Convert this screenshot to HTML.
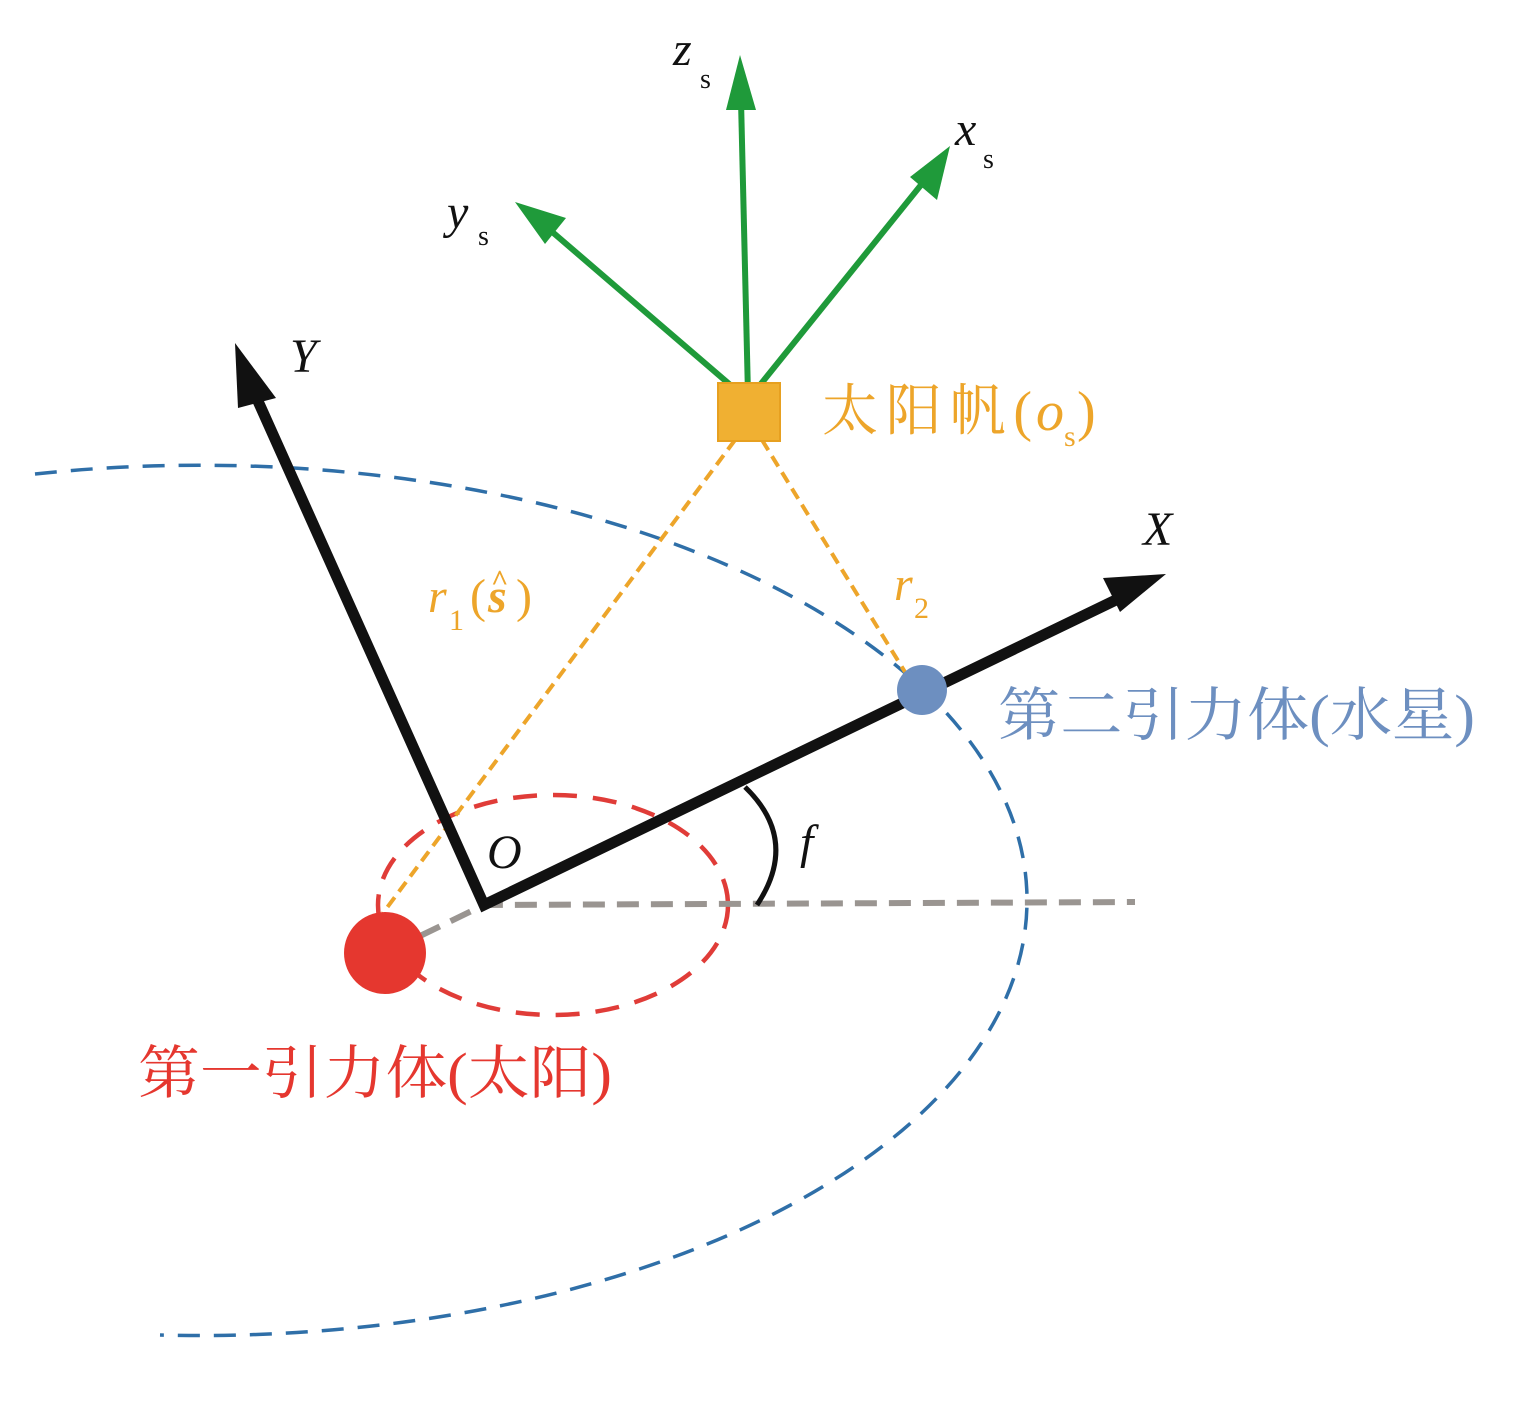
<!DOCTYPE html>
<html><head><meta charset="utf-8"><style>body{margin:0;background:#fff}svg{display:block}</style></head>
<body>
<svg width="1535" height="1408" viewBox="0 0 1535 1408" xmlns="http://www.w3.org/2000/svg" font-family="'Liberation Serif','Noto Serif CJK SC',serif">
<!-- blue orbit -->
<path d="M35,474 A827,435 0 0 1 1027,900 A827,435 0 0 1 160,1335" fill="none" stroke="#2f6fa8" stroke-width="3.5" stroke-dasharray="22,14"/>
<!-- red ellipse -->
<ellipse cx="553" cy="905" rx="175" ry="110" fill="none" stroke="#e03c38" stroke-width="4.5" stroke-dasharray="24,16"/>
<!-- gray dashed -->
<path d="M420,936 L484,905 L1135,902" fill="none" stroke="#9a9591" stroke-width="6" stroke-dasharray="22,12"/>
<!-- orange dashed -->
<line x1="735" y1="440" x2="383" y2="913" stroke="#eda52a" stroke-width="4" stroke-dasharray="12,7"/>
<line x1="762" y1="440" x2="905" y2="672" stroke="#eda52a" stroke-width="4" stroke-dasharray="12,7"/>
<!-- axes -->
<path d="M253,390 L484,905 L1120,598" fill="none" stroke="#111" stroke-width="11" stroke-linejoin="miter"/>
<polygon points="235,343 276,398 238,408" fill="#111"/>
<polygon points="1166,574 1120,612 1103,578" fill="#111"/>
<!-- angle arc -->
<path d="M745,787 Q800,840 757,905" fill="none" stroke="#111" stroke-width="5"/>
<!-- green arrows -->
<g stroke="#1f9a3a" stroke-width="6" fill="none">
<line x1="748" y1="395" x2="741" y2="100"/>
<line x1="752" y1="395" x2="925" y2="180"/>
<line x1="742" y1="395" x2="550" y2="230"/>
</g>
<polygon points="740,55 756,110 726,110" fill="#1f9a3a"/>
<polygon points="950,146 937,200 910,177" fill="#1f9a3a"/>
<polygon points="515,202 566,218 545,244" fill="#1f9a3a"/>
<!-- sail -->
<rect x="718" y="383" width="62" height="58" fill="#f0b032" stroke="#e7a020" stroke-width="2"/>
<!-- bodies -->
<circle cx="385" cy="953" r="41" fill="#e5372f"/>
<circle cx="922" cy="690" r="25" fill="#6d8fc0"/>
<!-- labels -->
<g font-style="italic" font-size="48" fill="#111">
<text x="290" y="372">Y</text>
<text x="1143" y="545">X</text>
<text x="487" y="868">O</text>
<text x="800" y="858">f</text>
<text x="673" y="65">z</text>
<text x="955" y="145">x</text>
<text x="447" y="228">y</text>
</g>
<g font-size="28" fill="#111">
<text x="700" y="88">s</text>
<text x="983" y="168">s</text>
<text x="478" y="245">s</text>
</g>
<g fill="#eda52a">
<text x="428" y="612" font-size="48" font-style="italic">r</text>
<text x="449" y="630" font-size="30">1</text>
<text x="470" y="612" font-size="48">(</text>
<text x="488" y="612" font-size="48" font-style="italic" font-weight="bold">s</text>
<text x="491" y="590" font-size="30" font-weight="bold">^</text>
<text x="516" y="612" font-size="48">)</text>
<text x="894" y="600" font-size="48" font-style="italic">r</text>
<text x="914" y="618" font-size="30">2</text>
<text x="822" y="430" font-size="56" textLength="210">太阳帆(</text>
<text x="1036" y="430" font-size="56" font-style="italic">o</text>
<text x="1064" y="446" font-size="30">s</text>
<text x="1077" y="430" font-size="56">)</text>
</g>
<text x="998" y="735" font-size="58" fill="#6d8fc0" textLength="477" lengthAdjust="spacingAndGlyphs">第二引力体(水星)</text>
<text x="138" y="1093" font-size="58" fill="#e5372f" textLength="474" lengthAdjust="spacingAndGlyphs">第一引力体(太阳)</text>
</svg>
</body></html>
